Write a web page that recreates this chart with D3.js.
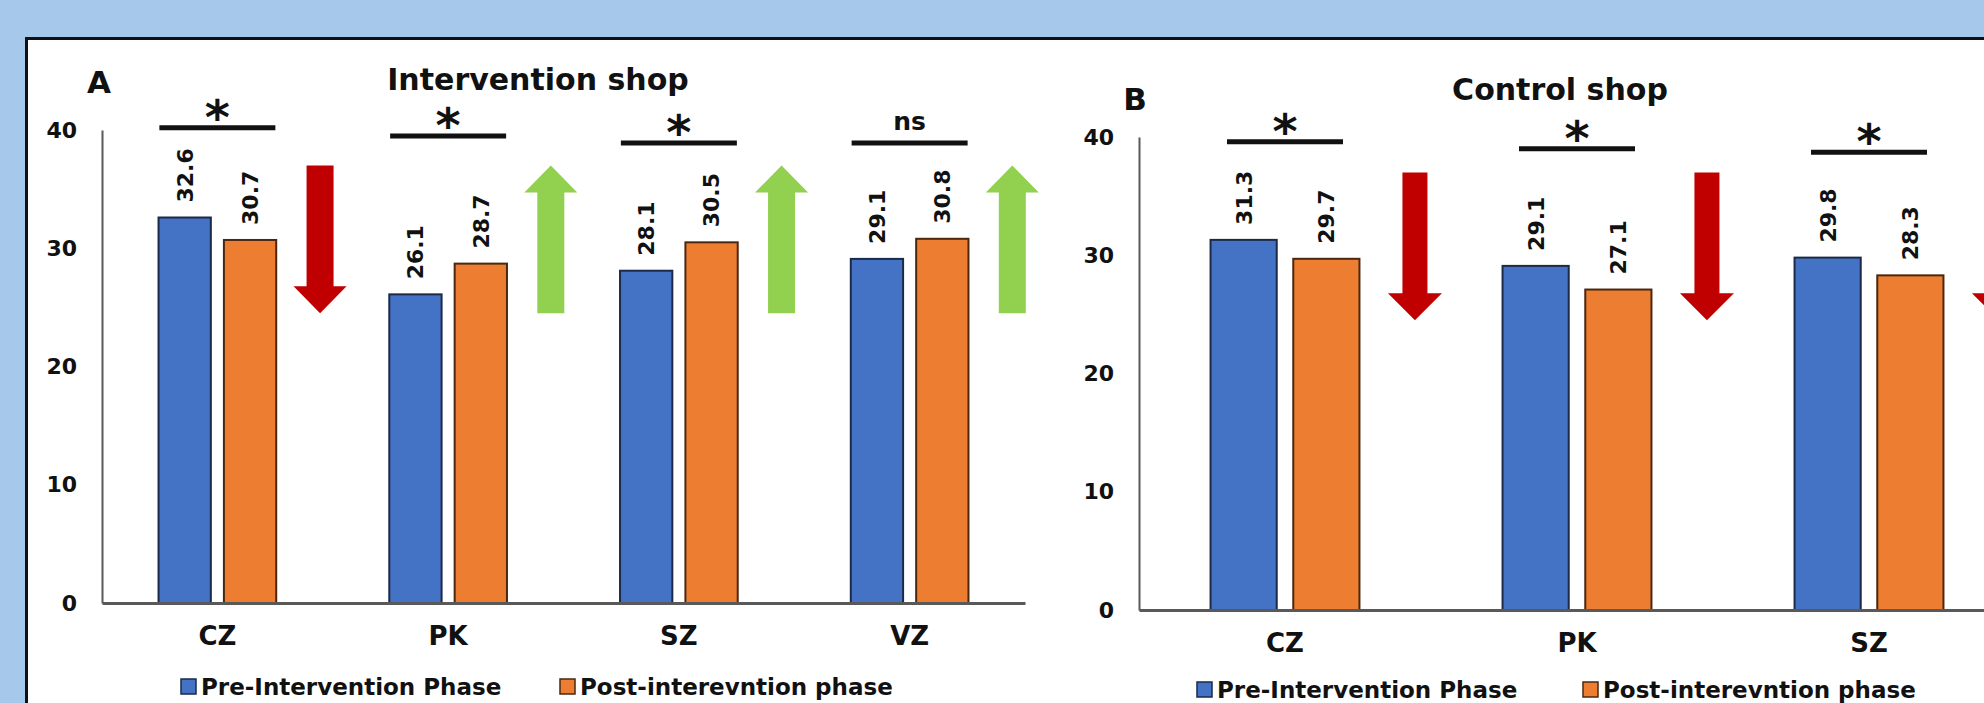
<!DOCTYPE html>
<html>
<head>
<meta charset="utf-8">
<script src="https://cdn.jsdelivr.net/npm/d3@7"></script>
<style>
  html, body { margin: 0; padding: 0; background: #a6c9eb; overflow: hidden; }
  svg { display: block; }
  text { font-family: "DejaVu Sans", Verdana, sans-serif; font-weight: bold; fill: #111; }
</style>
</head>
<body>
<svg id="chart" width="1984" height="703"></svg>
<script>
// ---- data ----
const categoriesA = ["CZ", "PK", "SZ", "VZ"];
const preA  = [32.6, 26.1, 28.1, 29.1];
const postA = [30.7, 28.7, 30.5, 30.8];
const sigA  = ["*", "*", "*", "ns"];

const categoriesB = ["CZ", "PK", "SZ"];
const preB  = [31.3, 29.1, 29.8];
const postB = [29.7, 27.1, 28.3];
const sigB  = ["*", "*", "*"];

const yTicks = [0, 10, 20, 30, 40];
const seriesNames = ["Pre-Intervention Phase", "Post-interevntion phase"];
const panelLetters = ["A", "B"];
const panelTitles = ["Intervention shop", "Control shop"];

// ---- styling / layout ----
const colors = { pre: "#4472c4", post: "#ed7d31", preEdge: "#1b2a48", postEdge: "#4a2810",
                 down: "#c00000", up: "#92d050", axis: "#595959" };

const layouts = [
  { x0: 102, x1: 1025, yBase: 603, yTop: 130, titleX: 538, titleY: 90, letterX: 99, letterY: 93,
    bracketLevels: [40.2, 39.5, 38.9, 38.9], legendY: 695, legendX: [179, 558],
    arrowShaft: 27, arrowHead: 53 },
  { x0: 1139, x1: 2015, yBase: 610, yTop: 137, titleX: 1560, titleY: 100, letterX: 1135, letterY: 110,
    bracketLevels: [39.6, 39.0, 38.7], legendY: 698, legendX: [1195, 1581],
    arrowShaft: 25, arrowHead: 54 }
];
const arrowSpan = [24.5, 37];   // value range covered by the change arrows
const arrowHeadH = 27;

const panelData = [
  { cats: categoriesA, pre: preA, post: postA, sig: sigA },
  { cats: categoriesB, pre: preB, post: postB, sig: sigB }
];

const svg = d3.select("#chart");

// frame: blue surround and white panel with a dark border
svg.append("rect").attr("x", 0).attr("y", 0).attr("width", 1984).attr("height", 703).attr("fill", "#a6c9eb");
svg.append("rect").attr("x", 26.5).attr("y", 38.5).attr("width", 2100).attr("height", 800)
   .attr("fill", "#ffffff").attr("stroke", "#111").attr("stroke-width", 3);

panelData.forEach((pd, pi) => {
  const L = layouts[pi];
  const g = svg.append("g");

  const x = d3.scaleBand().domain(pd.cats).range([L.x0, L.x1]).paddingInner(0.49).paddingOuter(0.245);
  const xs = d3.scaleBand().domain(["pre", "post"]).range([0, x.bandwidth()]).paddingInner(0.2);
  const y = d3.scaleLinear().domain([0, 40]).range([L.yBase, L.yTop]);

  // y axis
  const yAxis = g.append("g").attr("transform", `translate(${L.x0},0)`)
    .call(d3.axisLeft(y).tickValues(yTicks).tickSize(0).tickSizeOuter(0).tickPadding(25));
  yAxis.select(".domain").attr("stroke", colors.axis).attr("stroke-width", 2);
  yAxis.selectAll("text").style("font-size", "22px").attr("fill", "#111");

  // bars
  const rows = pd.cats.map((c, i) => ({ cat: c, i, pre: pd.pre[i], post: pd.post[i] }));
  const grp = g.selectAll(".grp").data(rows).join("g")
    .attr("transform", d => `translate(${x(d.cat)},0)`);

  grp.selectAll("rect").data(d => [
      { key: "pre", v: d.pre }, { key: "post", v: d.post }]).join("rect")
    .attr("x", d => xs(d.key))
    .attr("y", d => y(d.v))
    .attr("width", xs.bandwidth())
    .attr("height", d => y(0) - y(d.v))
    .attr("fill", d => colors[d.key])
    .attr("stroke", d => colors[d.key + "Edge"])
    .attr("stroke-width", 2);

  // rotated value labels
  grp.selectAll(".val").data(d => [
      { key: "pre", v: d.pre }, { key: "post", v: d.post }]).join("text")
    .attr("class", "val")
    .attr("transform", d => `translate(${xs(d.key) + xs.bandwidth() / 2},${y(d.v) - 15}) rotate(-90)`)
    .attr("dy", "0.36em")
    .attr("text-anchor", "start")
    .style("font-size", "22px")
    .text(d => d.v.toFixed(1));

  // x axis (baseline + category labels)
  const xAxis = g.append("g").attr("transform", `translate(0,${L.yBase})`)
    .call(d3.axisBottom(x).tickSize(0).tickSizeOuter(0).tickPadding(24));
  xAxis.select(".domain").attr("stroke", colors.axis).attr("stroke-width", 3);
  xAxis.selectAll("text").style("font-size", "26px").attr("fill", "#111");

  // significance brackets
  rows.forEach(d => {
    const cx = x(d.cat) + x.bandwidth() / 2;
    const ly = y(L.bracketLevels[d.i]);
    g.append("line").attr("x1", cx - 58).attr("x2", cx + 58).attr("y1", ly).attr("y2", ly)
      .attr("stroke", "#111").attr("stroke-width", 5);
    const s = pd.sig[d.i];
    if (s === "*") {
      g.append("text").attr("x", cx).attr("y", ly + 6).attr("text-anchor", "middle")
        .style("font-size", "48px").text(s);
    } else {
      g.append("text").attr("x", cx).attr("y", ly - 13).attr("text-anchor", "middle")
        .style("font-size", "25px").text(s);
    }
  });

  // change arrows: red down when the value fell, green up when it rose
  rows.forEach(d => {
    const cx = x(d.cat) + x.bandwidth() / 2 + 0.445 * x.step();
    const top = y(arrowSpan[1]), bot = y(arrowSpan[0]);
    const sw = L.arrowShaft / 2, hw = L.arrowHead / 2;
    const up = d.post > d.pre;
    let p;
    if (up) {
      p = `M${cx},${top} L${cx + hw},${top + arrowHeadH} L${cx + sw},${top + arrowHeadH} L${cx + sw},${bot}
           L${cx - sw},${bot} L${cx - sw},${top + arrowHeadH} L${cx - hw},${top + arrowHeadH} Z`;
    } else {
      p = `M${cx - sw},${top} L${cx + sw},${top} L${cx + sw},${bot - arrowHeadH} L${cx + hw},${bot - arrowHeadH}
           L${cx},${bot} L${cx - hw},${bot - arrowHeadH} L${cx - sw},${bot - arrowHeadH} Z`;
    }
    g.append("path").attr("d", p).attr("fill", up ? colors.up : colors.down);
  });

  // panel letter and title
  g.append("text").attr("x", L.letterX).attr("y", L.letterY).attr("text-anchor", "middle")
    .style("font-size", "31px").text(panelLetters[pi]);
  g.append("text").attr("x", L.titleX).attr("y", L.titleY).attr("text-anchor", "middle")
    .style("font-size", "30px").text(panelTitles[pi]);

  // legend
  ["pre", "post"].forEach((k, li) => {
    const lx = L.legendX[li];
    g.append("rect").attr("x", lx + 2).attr("y", L.legendY - 16).attr("width", 15).attr("height", 15)
      .attr("fill", colors[k]).attr("stroke", colors[k + "Edge"]).attr("stroke-width", 1.5);
    g.append("text").attr("x", lx + 22).attr("y", L.legendY).style("font-size", "23px").text(seriesNames[li]);
  });
});
</script>
</body>
</html>
